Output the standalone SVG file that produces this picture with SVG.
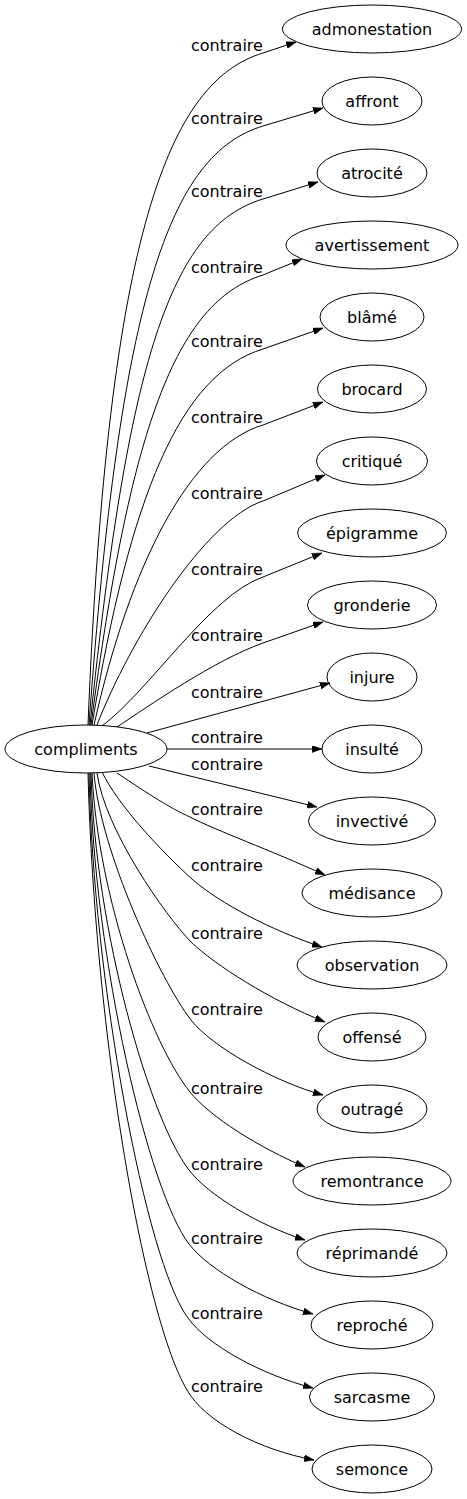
<svg xmlns="http://www.w3.org/2000/svg" width="467" height="1499" viewBox="0 0 467 1499">
<style>
text{font-family:"DejaVu Sans","Verdana",sans-serif;font-size:16px;fill:#000}
.n text{text-anchor:middle}
.n ellipse{fill:none;stroke:#000;stroke-width:1}
.e path{fill:none;stroke:#000;stroke-width:1;marker-end:url(#ah)}
</style>
<defs>
<marker id="ah" viewBox="0 0 10 7" refX="10" refY="3.5" markerWidth="10" markerHeight="7" markerUnits="userSpaceOnUse" orient="auto"><path d="M0,0 L10,3.5 L0,7 z" fill="#000" stroke="#000" stroke-width="0.5"/></marker>
</defs>
<rect width="467" height="1499" fill="#fff"/>
<g id="edges" class="e">
<path d="M88,725 C108,229 170,81 263,53 L296,42"/>
<path d="M89,725 C120,295 170,154 263,126 L323,108"/>
<path d="M90,725 C128,361 170,227 263,199 L318,182"/>
<path d="M91,725 C130,429 175,302 263,275 L302,259"/>
<path d="M92,725 C130,496 180,374 263,349 L323,328"/>
<path d="M94,725 C130,564 190,447 263,425 L323,402"/>
<path d="M97,725 C130,640 205,520 263,501 L325,475"/>
<path d="M102,726 C150,690 210,595 263,577 L322,553"/>
<path d="M117,727 C150,705 215,660 263,643 L323,622"/>
<path d="M147,733 L330,683"/>
<path d="M167,749 L322,749"/>
<path d="M149,766 L317,807"/>
<path d="M117,773 C150,795 170,808 190,817 C215,830 270,850 325,875"/>
<path d="M102,772 C118,805 160,850 193,880 C220,903 270,930 322,947"/>
<path d="M97,773 C105,830 165,915 191,942 C215,965 270,1000 325,1022"/>
<path d="M94,773 C100,850 160,980 191,1020 C212,1047 275,1082 323,1095"/>
<path d="M92,773 C98,900 152,1045 190,1092 C210,1117 260,1148 305,1167"/>
<path d="M91,773 C95,930 150,1120 189,1170 C208,1195 258,1225 305,1240"/>
<path d="M90,773 C94,960 149,1192 189,1244 C209,1270 262,1300 313,1314"/>
<path d="M89,773 C93,980 146,1262 188,1318 C207,1345 262,1375 313,1388"/>
<path d="M88,773 C95,1040 145,1320 187,1390 C205,1422 260,1450 314,1460"/>
</g>
<g id="edge-labels">
<text x="191" y="51">contraire</text>
<text x="191" y="124">contraire</text>
<text x="191" y="197">contraire</text>
<text x="191" y="273">contraire</text>
<text x="191" y="347">contraire</text>
<text x="191" y="423">contraire</text>
<text x="191" y="499">contraire</text>
<text x="191" y="575">contraire</text>
<text x="191" y="641">contraire</text>
<text x="191" y="698">contraire</text>
<text x="191" y="743">contraire</text>
<text x="191" y="770">contraire</text>
<text x="191" y="815">contraire</text>
<text x="191" y="871">contraire</text>
<text x="191" y="939">contraire</text>
<text x="191" y="1015">contraire</text>
<text x="191" y="1094">contraire</text>
<text x="191" y="1170">contraire</text>
<text x="191" y="1244">contraire</text>
<text x="191" y="1319">contraire</text>
<text x="191" y="1392">contraire</text>
</g>
<g id="compliments" class="n"><ellipse cx="86" cy="749" rx="81" ry="24"/><text x="86" y="755">compliments</text></g>
<g id="admonestation" class="n"><ellipse cx="372" cy="29" rx="89.5" ry="24"/><text x="372" y="35">admonestation</text></g>
<g id="affront" class="n"><ellipse cx="372" cy="101" rx="50" ry="24"/><text x="372" y="107">affront</text></g>
<g id="atrocite" class="n"><ellipse cx="372" cy="173" rx="55" ry="24"/><text x="372" y="179">atrocité</text></g>
<g id="avertissement" class="n"><ellipse cx="372" cy="245" rx="86" ry="24"/><text x="372" y="251">avertissement</text></g>
<g id="blame" class="n"><ellipse cx="372" cy="317" rx="52" ry="24"/><text x="372" y="323">blâmé</text></g>
<g id="brocard" class="n"><ellipse cx="372" cy="389" rx="54.5" ry="24"/><text x="372" y="395">brocard</text></g>
<g id="critique" class="n"><ellipse cx="372" cy="461" rx="55.5" ry="24"/><text x="372" y="467">critiqué</text></g>
<g id="epigramme" class="n"><ellipse cx="372" cy="533" rx="74.5" ry="24"/><text x="372" y="539">épigramme</text></g>
<g id="gronderie" class="n"><ellipse cx="372" cy="605" rx="64.5" ry="24"/><text x="372" y="611">gronderie</text></g>
<g id="injure" class="n"><ellipse cx="372" cy="677" rx="45" ry="24"/><text x="372" y="683">injure</text></g>
<g id="insulte" class="n"><ellipse cx="372" cy="749" rx="50" ry="24"/><text x="372" y="755">insulté</text></g>
<g id="invective" class="n"><ellipse cx="372" cy="821" rx="63.5" ry="24"/><text x="372" y="827">invectivé</text></g>
<g id="medisance" class="n"><ellipse cx="372" cy="893" rx="70" ry="24"/><text x="372" y="899">médisance</text></g>
<g id="observation" class="n"><ellipse cx="372" cy="965" rx="75" ry="24"/><text x="372" y="971">observation</text></g>
<g id="offense" class="n"><ellipse cx="372" cy="1037" rx="54" ry="24"/><text x="372" y="1043">offensé</text></g>
<g id="outrage" class="n"><ellipse cx="372" cy="1109" rx="55" ry="24"/><text x="372" y="1115">outragé</text></g>
<g id="remontrance" class="n"><ellipse cx="372" cy="1181" rx="79" ry="24"/><text x="372" y="1187">remontrance</text></g>
<g id="reprimande" class="n"><ellipse cx="372" cy="1253" rx="75" ry="24"/><text x="372" y="1259">réprimandé</text></g>
<g id="reproche" class="n"><ellipse cx="372" cy="1325" rx="61" ry="24"/><text x="372" y="1331">reproché</text></g>
<g id="sarcasme" class="n"><ellipse cx="372" cy="1397" rx="62.5" ry="24"/><text x="372" y="1403">sarcasme</text></g>
<g id="semonce" class="n"><ellipse cx="372" cy="1469" rx="60" ry="24"/><text x="372" y="1475">semonce</text></g>
</svg>
